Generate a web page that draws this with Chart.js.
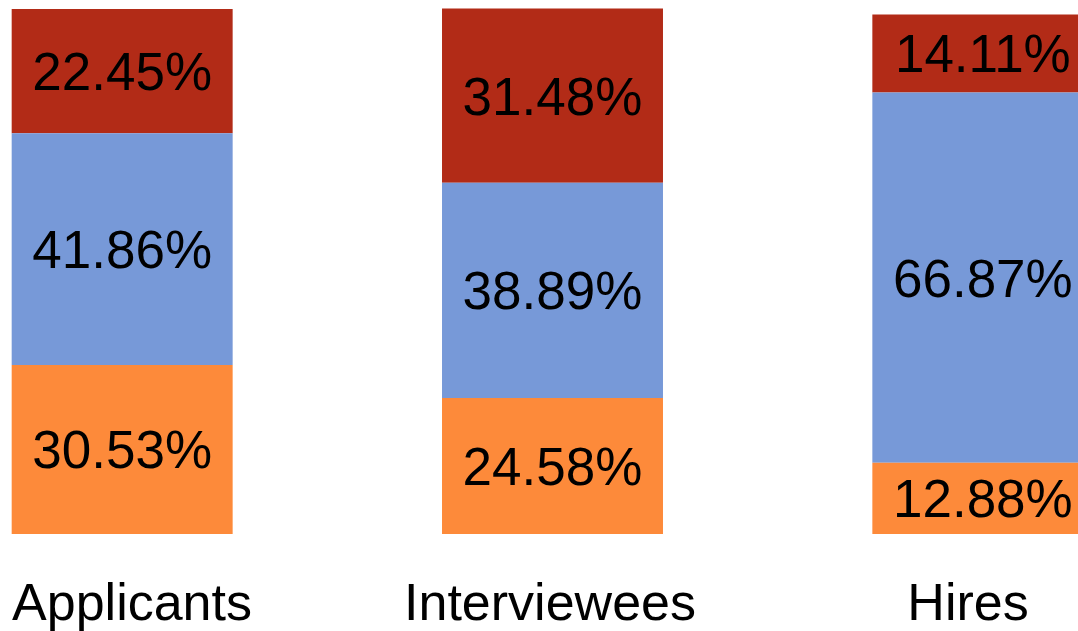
<!DOCTYPE html>
<html>
<head>
<meta charset="utf-8">
<script src="https://cdn.jsdelivr.net/npm/chart.js@4.4.1/dist/chart.umd.min.js"></script>
<style>
  html, body { margin: 0; padding: 0; background: #ffffff; overflow: hidden; width: 1078px; height: 631px; }
  #wrap { position: absolute; left: -93px; top: 0; width: 1291px; height: 631px; }
</style>
</head>
<body>
<div id="wrap"><canvas id="c"></canvas></div>
<script>
const categories = ["Applicants", "Interviewees", "Hires"];
const bottomSeries = [30.53, 24.58, 12.88];
const middleSeries = [41.86, 38.89, 66.87];
const topSeries = [22.45, 31.48, 14.11];

const FONT = "'Liberation Sans', Arial, Helvetica, sans-serif";
const LABEL_SIZE = 53;
const AXIS_SIZE = 52;

const segmentLabels = {
  id: 'segmentLabels',
  afterDatasetsDraw(chart) {
    const ctx = chart.ctx;
    ctx.save();
    ctx.fillStyle = '#000000';
    ctx.font = LABEL_SIZE + 'px ' + FONT;
    ctx.textAlign = 'center';
    ctx.textBaseline = 'alphabetic';
    chart.data.datasets.forEach((ds, di) => {
      const meta = chart.getDatasetMeta(di);
      meta.data.forEach((el, i) => {
        const p = el.getProps(['x', 'y', 'base'], true);
        const cy = (p.y + p.base) / 2;
        ctx.fillText(ds.data[i].toFixed(2) + '%', p.x, cy + LABEL_SIZE * 0.358);
      });
    });
    ctx.restore();
  }
};

new Chart(document.getElementById('c'), {
  type: 'bar',
  data: {
    labels: categories,
    datasets: [
      { label: 'Bottom', data: bottomSeries, backgroundColor: '#FD8A3A' },
      { label: 'Middle', data: middleSeries, backgroundColor: '#7799D8' },
      { label: 'Top', data: topSeries, backgroundColor: '#B22B17' }
    ]
  },
  options: {
    responsive: true,
    maintainAspectRatio: false,
    animation: false,
    devicePixelRatio: 1,
    layout: { padding: 0 },
    datasets: { bar: { categoryPercentage: 1.0, barPercentage: 0.5135, borderWidth: 0 } },
    plugins: { legend: { display: false }, tooltip: { enabled: false }, title: { display: false } },
    scales: {
      x: { type: 'category', stacked: true, display: false, offset: true },
      y: { stacked: true, display: false, min: 0, max: 96.47 },
      xt: {
        type: 'linear',
        position: 'bottom',
        offset: false,
        bounds: 'data',
        min: -0.5383,
        max: 2.5502,
        grid: { display: false, drawTicks: false, offset: false },
        border: { display: false },
        afterBuildTicks: (scale) => {
          scale.min = -0.5383;
          scale.max = 2.5502;
          scale.ticks = categories.map((_, i) => ({ value: i }));
        },
        ticks: {
          autoSkip: false,
          maxRotation: 0,
          minRotation: 0,
          padding: 40,
          color: '#000000',
          font: { family: FONT, size: AXIS_SIZE },
          callback: (v) => (categories[v] !== undefined) ? categories[v] : ''
        },
        afterFit: (scale) => { scale.height = 97; }
      }
    }
  },
  plugins: [segmentLabels]
});
</script>
</body>
</html>
